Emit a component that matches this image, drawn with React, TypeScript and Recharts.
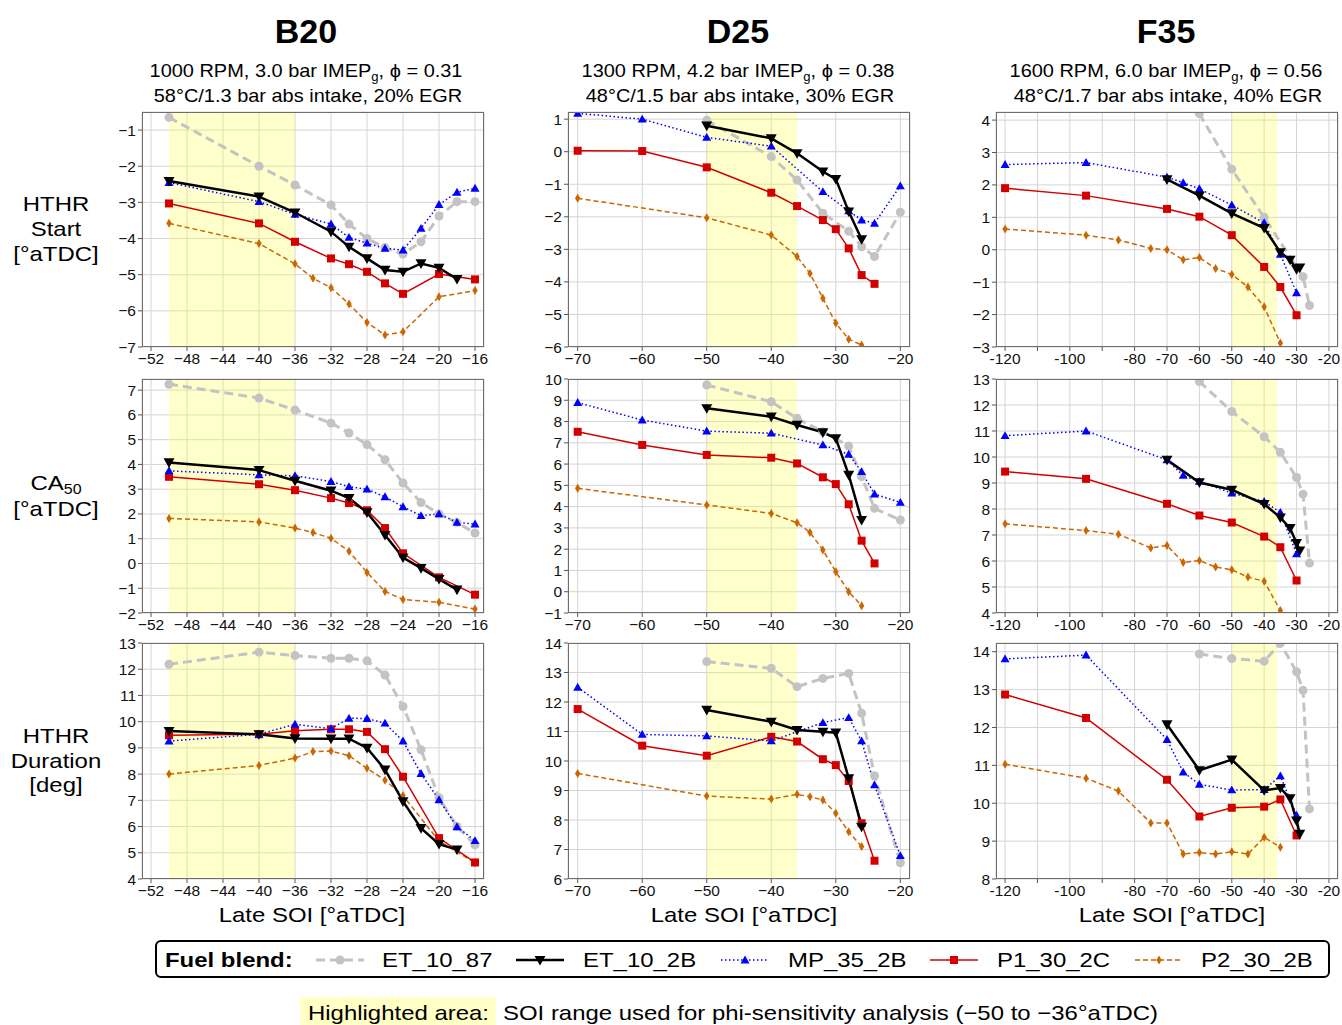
import React from 'react';
import { CartesianGrid, Line, LineChart, ReferenceArea, XAxis, YAxis } from 'recharts';

// ---------- data ----------
// B20 column
const B20_X_GRAY = [-50, -40, -36, -32, -30, -28, -26, -24, -22, -20, -18, -16];
const B20_X_BLACK = [-50, -40, -36, -32, -30, -28, -26, -24, -22, -20, -18];
const B20_X_BLUE = [-50, -40, -36, -32, -30, -28, -26, -24, -22, -20, -18, -16];
const B20_X_RED = [-50, -40, -36, -32, -30, -28, -26, -24, -20, -16];
const B20_X_ORANGE = [-50, -40, -36, -34, -32, -30, -28, -26, -24, -20, -16];

const B20_START_GRAY = [-0.65, -2.0, -2.52, -3.07, -3.6, -4.0, -4.25, -4.43, -4.09, -3.38, -2.98, -2.98];
const B20_START_BLACK = [-2.41, -2.84, -3.28, -3.81, -4.23, -4.55, -4.87, -4.92, -4.69, -4.81, -5.12];
const B20_START_BLUE = [-2.45, -2.98, -3.33, -3.6, -3.97, -4.13, -4.27, -4.32, -3.72, -3.06, -2.72, -2.61];
const B20_START_RED = [-3.03, -3.58, -4.09, -4.55, -4.71, -4.92, -5.24, -5.53, -4.98, -5.13];
const B20_START_ORANGE = [-3.58, -4.14, -4.7, -5.1, -5.36, -5.81, -6.32, -6.67, -6.58, -5.61, -5.44];

const B20_CA50_GRAY = [7.24, 6.68, 6.2, 5.67, 5.27, 4.8, 4.19, 3.25, 2.46, 2.0, 1.65, 1.23];
const B20_CA50_BLACK = [4.08, 3.77, 3.34, 2.94, 2.64, 2.06, 1.15, 0.24, -0.19, -0.63, -1.06];
const B20_CA50_BLUE = [3.74, 3.58, 3.54, 3.31, 3.1, 3.0, 2.69, 2.29, 1.93, 2.0, 1.66, 1.59];
const B20_CA50_RED = [3.5, 3.2, 2.96, 2.64, 2.44, 2.15, 1.43, 0.41, -0.56, -1.26];
const B20_CA50_ORANGE = [1.82, 1.68, 1.43, 1.25, 1.02, 0.49, -0.36, -1.13, -1.45, -1.57, -1.84];

const B20_DUR_GRAY = [12.19, 12.65, 12.52, 12.42, 12.42, 12.32, 11.78, 10.58, 8.93, 7.1, 6.0, 5.3];
const B20_DUR_BLACK = [9.64, 9.52, 9.36, 9.35, 9.35, 9.0, 8.17, 6.96, 5.94, 5.33, 5.12];
const B20_DUR_BLUE = [9.26, 9.52, 9.9, 9.73, 10.13, 10.12, 9.94, 9.26, 8.02, 7.02, 5.99, 5.46];
const B20_DUR_RED = [9.48, 9.52, 9.65, 9.71, 9.71, 9.61, 8.95, 7.9, 5.56, 4.63];
const B20_DUR_ORANGE = [8.0, 8.33, 8.61, 8.86, 8.88, 8.7, 8.22, 7.77, 7.18, 5.45, 4.62];

// D25 column
const D25_X_GRAY = [-50, -40, -36, -32, -28, -26, -24, -20];
const D25_X_BLACK = [-50, -40, -36, -32, -30, -28, -26];
const D25_X_BLUE = [-70, -60, -50, -40, -32, -28, -26, -24, -20];
const D25_X_RED = [-70, -60, -50, -40, -36, -32, -30, -28, -26, -24];
const D25_X_ORANGE = [-70, -50, -40, -36, -34, -32, -30, -28, -26];

const D25_START_GRAY = [0.97, -0.15, -0.87, -1.89, -2.44, -2.92, -3.22, -1.86];
const D25_START_BLACK = [0.8, 0.41, -0.05, -0.61, -0.84, -1.84, -2.69];
const D25_START_BLUE = [1.18, 1.0, 0.44, 0.17, -1.23, -1.82, -2.1, -2.2, -1.05];
const D25_START_RED = [0.03, 0.02, -0.48, -1.26, -1.67, -2.1, -2.38, -2.97, -3.79, -4.06];
const D25_START_ORANGE = [-1.43, -2.03, -2.56, -3.22, -3.74, -4.5, -5.27, -5.76, -5.94];

const D25_CA50_GRAY = [9.72, 8.93, 8.15, 7.52, 6.85, 5.41, 3.92, 3.37];
const D25_CA50_BLACK = [8.62, 8.23, 7.84, 7.49, 7.21, 5.49, 3.37];
const D25_CA50_BLUE = [8.89, 8.07, 7.55, 7.45, 6.9, 6.46, 5.64, 4.59, 4.2];
const D25_CA50_RED = [7.52, 6.9, 6.43, 6.3, 6.03, 5.38, 5.06, 4.11, 2.4, 1.33];
const D25_CA50_ORANGE = [4.86, 4.08, 3.68, 3.24, 2.79, 1.96, 0.94, 0.0, -0.66];

const D25_DUR_GRAY = [13.37, 13.14, 12.52, 12.8, 12.97, 11.62, 9.5, 6.55];
const D25_DUR_BLACK = [11.73, 11.33, 11.05, 10.99, 10.96, 9.41, 7.77];
const D25_DUR_BLUE = [12.5, 10.9, 10.85, 10.68, 11.3, 11.47, 10.68, 9.19, 6.79];
const D25_DUR_RED = [11.76, 10.52, 10.18, 10.82, 10.66, 10.06, 9.86, 9.32, 7.89, 6.62];
const D25_DUR_ORANGE = [9.58, 8.81, 8.71, 8.87, 8.79, 8.68, 8.23, 7.6, 7.1];

// F35 column
const F35_X_GRAY_START = [-60, -50, -40, -28, -26];
const F35_X_GRAY = [-60, -50, -40, -35, -30, -28, -26];
const F35_X_BLACK = [-70, -60, -50, -40, -35, -32, -30, -29];
const F35_X_BLUE = [-120, -95, -70, -65, -60, -50, -40, -35, -30];
const F35_X_RED = [-120, -95, -70, -60, -50, -40, -35, -30];
const F35_X_ORANGE = [-120, -95, -85, -75, -70, -65, -60, -55, -50, -45, -40, -35];

const F35_START_GRAY = [4.2, 2.48, 1.0, -0.83, -1.72];
const F35_START_BLACK = [2.17, 1.67, 1.12, 0.67, -0.08, -0.31, -0.6, -0.55];
const F35_START_BLUE = [2.63, 2.69, 2.24, 2.07, 1.88, 1.38, 0.83, -0.14, -1.33];
const F35_START_RED = [1.9, 1.67, 1.26, 1.02, 0.45, -0.53, -1.15, -2.02];
const F35_START_ORANGE = [0.64, 0.45, 0.3, 0.04, 0.0, -0.31, -0.24, -0.58, -0.76, -1.15, -1.76, -2.88];

const F35_CA50_GRAY = [12.9, 11.75, 10.78, 10.18, 9.21, 8.57, 5.92];
const F35_CA50_BLACK = [9.89, 9.02, 8.74, 8.19, 7.67, 7.26, 6.69, 6.4];
const F35_CA50_BLUE = [10.82, 11.0, 9.89, 9.29, 9.06, 8.61, 8.29, 7.87, 6.27];
const F35_CA50_RED = [9.44, 9.16, 8.2, 7.75, 7.48, 6.94, 6.53, 5.25];
const F35_CA50_ORANGE = [7.43, 7.17, 7.03, 6.5, 6.6, 5.94, 6.02, 5.77, 5.66, 5.38, 5.22, 4.1];

const F35_DUR_GRAY = [13.94, 13.82, 13.75, 14.22, 13.47, 12.98, 9.85];
const F35_DUR_BLACK = [12.08, 10.87, 11.15, 10.34, 10.4, 10.13, 9.54, 9.19];
const F35_DUR_BLUE = [13.81, 13.91, 11.68, 10.82, 10.5, 10.35, 10.36, 10.72, 9.68];
const F35_DUR_RED = [12.87, 12.25, 10.62, 9.65, 9.88, 9.91, 10.1, 9.15];
const F35_DUR_ORANGE = [11.03, 10.66, 10.32, 9.48, 9.48, 8.66, 8.7, 8.66, 8.72, 8.66, 9.1, 8.84];

// axis ticks
const B20_X_TICKS = [-52, -48, -44, -40, -36, -32, -28, -24, -20, -16];
const D25_X_TICKS = [-70, -60, -50, -40, -30, -20];
const F35_X_TICKS = [-120, -110, -100, -90, -80, -70, -60, -50, -40, -30, -20];
const F35_X_UNLABELED = [-110, -90];

const FUELS = ['ET_10_87', 'ET_10_2B', 'MP_35_2B', 'P1_30_2C', 'P2_30_2B'];
const TITLES = ['B20', 'D25', 'F35'];
const COND_1 = ['1000 RPM, 3.0 bar IMEP', '1300 RPM, 4.2 bar IMEP', '1600 RPM, 6.0 bar IMEP'];
const PHI = ['0.31', '0.38', '0.56'];
const COND_2 = [
  '58°C/1.3 bar abs intake, 20% EGR',
  '48°C/1.5 bar abs intake, 30% EGR',
  '48°C/1.7 bar abs intake, 40% EGR',
];

const range = (a: number, b: number) => {
  const r: number[] = [];
  for (let v = a; v <= b; v++) r.push(v);
  return r;
};

// ---------- styles ----------
const FONT = '"Liberation Sans", Arial, Helvetica, sans-serif';

type Style = {
  color: string;
  width: number;
  dash?: string;
  shape: 'circle' | 'tdown' | 'tup' | 'square' | 'diamond';
  size: number;
};

const STYLES: Style[] = [
  { color: '#c3c3c3', width: 3, dash: '9 5', shape: 'circle', size: 4.5 },
  { color: '#000000', width: 2.5, shape: 'tdown', size: 5.5 },
  { color: '#0000ff', width: 1.5, dash: '1.5 2.5', shape: 'tup', size: 4.5 },
  { color: '#d40000', width: 1.5, shape: 'square', size: 4 },
  { color: '#cc6600', width: 1.5, dash: '5 3', shape: 'diamond', size: 4.5 },
];

function markerPath(shape: Style['shape'], cx: number, cy: number, s: number) {
  switch (shape) {
    case 'tdown':
      return `M${cx - s},${cy - s * 0.75} L${cx + s},${cy - s * 0.75} L${cx},${cy + s} Z`;
    case 'tup':
      return `M${cx - s},${cy + s * 0.75} L${cx + s},${cy + s * 0.75} L${cx},${cy - s} Z`;
    case 'square':
      return `M${cx - s},${cy - s} H${cx + s} V${cy + s} H${cx - s} Z`;
    case 'diamond':
      return `M${cx},${cy - s} L${cx + s * 0.6},${cy} L${cx},${cy + s} L${cx - s * 0.6},${cy} Z`;
    default:
      return '';
  }
}

function makeDot(st: Style) {
  return (p: any) => {
    const { cx, cy, index } = p;
    if (cx == null || cy == null || isNaN(cx) || isNaN(cy)) return <g key={`e${index}`} />;
    if (st.shape === 'circle') {
      return <circle key={`d${index}`} cx={cx} cy={cy} r={st.size} fill={st.color} />;
    }
    return <path key={`d${index}`} d={markerPath(st.shape, cx, cy, st.size)} fill={st.color} />;
  };
}

const minus = (v: number) => String(v).replace('-', '\u2212');

type Series = { xs: number[]; ys: number[] };

type PanelProps = {
  left: number;
  top: number;
  width: number;
  height: number;
  xDomain: [number, number];
  xTicks: number[];
  xFmt: (v: number) => string;
  yDomain: [number, number];
  yTicks: number[];
  series: Series[];
};

const DRAW_ORDER = [0, 4, 3, 2, 1];
const YW = 50;
const XH = 26;
const M = 8;

function Panel({ left, top, width, height, xDomain, xTicks, xFmt, yDomain, yTicks, series }: PanelProps) {
  const tick = { fill: '#111', fontSize: 15.5, fontFamily: FONT };
  return (
    <>
      <div style={{ position: 'absolute', left: left - YW, top: top - M }}>
        <LineChart
          width={YW + width + M}
          height={M + height + XH}
          margin={{ top: M, right: M, bottom: 0, left: 0 }}
        >
          <CartesianGrid stroke="#d4d4d4" strokeWidth={1} />
          <ReferenceArea x1={-50} x2={-36} fill="#ffff55" fillOpacity={0.3} stroke="none" ifOverflow="hidden" />
          <XAxis
            type="number"
            dataKey="x"
            domain={xDomain}
            ticks={xTicks}
            interval={0}
            allowDataOverflow
            tickFormatter={xFmt}
            height={XH}
            tickSize={4}
            tickMargin={2}
            axisLine={false}
            tickLine={{ stroke: '#555' }}
            tick={tick}
          />
          <YAxis
            type="number"
            dataKey="y"
            domain={yDomain}
            ticks={yTicks}
            interval={0}
            allowDataOverflow
            tickFormatter={(v: number) => minus(v)}
            width={YW}
            tickSize={4}
            tickMargin={2}
            axisLine={false}
            tickLine={{ stroke: '#555' }}
            tick={tick}
          />
          {DRAW_ORDER.map((si) => {
            const st = STYLES[si];
            const s = series[si];
            const data = s.xs.map((x, i) => ({ x, y: s.ys[i] }));
            return (
              <Line
                key={FUELS[si]}
                data={data}
                dataKey="y"
                type="linear"
                stroke={st.color}
                strokeWidth={st.width}
                strokeDasharray={st.dash}
                dot={makeDot(st)}
                activeDot={false}
                isAnimationActive={false}
              />
            );
          })}
        </LineChart>
      </div>
      <div
        style={{
          position: 'absolute',
          left,
          top,
          width,
          height,
          border: '1px solid #6e6e6e',
          boxSizing: 'border-box',
          pointerEvents: 'none',
        }}
      />
    </>
  );
}

function Txt({
  x,
  y,
  size,
  bold,
  children,
  align = 'center',
  sx = 1,
}: {
  x: number;
  y: number;
  size: number;
  bold?: boolean;
  children: React.ReactNode;
  align?: 'center' | 'left';
  sx?: number;
}) {
  return (
    <div
      style={{
        position: 'absolute',
        left: x,
        top: y - 0.5 * size,
        transform: align === 'center' ? `translateX(-50%) scaleX(${sx})` : `scaleX(${sx})`,
        transformOrigin: align === 'center' ? 'center' : 'left center',
        fontSize: size,
        lineHeight: `${size}px`,
        fontWeight: bold ? 700 : 400,
        fontFamily: FONT,
        whiteSpace: 'nowrap',
        color: '#000',
      }}
    >
      {children}
    </div>
  );
}

function LegendSample({ x, st }: { x: number; st: Style }) {
  const w = 52;
  return (
    <svg style={{ position: 'absolute', left: x, top: 950 }} width={w} height={20}>
      <line x1={2} y1={10} x2={w - 2} y2={10} stroke={st.color} strokeWidth={st.width} strokeDasharray={st.dash} />
      {st.shape === 'circle' ? (
        <circle cx={w / 2} cy={10} r={st.size} fill={st.color} />
      ) : (
        <path d={markerPath(st.shape, w / 2, 10, st.size)} fill={st.color} />
      )}
    </svg>
  );
}

// ---------- layout ----------
const COLS = [
  { left: 142, right: 484, domain: [-53, -15] as [number, number], ticks: B20_X_TICKS, fmt: (v: number) => minus(v) },
  { left: 568, right: 910, domain: [-71.5, -18.5] as [number, number], ticks: D25_X_TICKS, fmt: (v: number) => minus(v) },
  {
    left: 996,
    right: 1338,
    domain: [-122.8, -17.2] as [number, number],
    ticks: F35_X_TICKS,
    fmt: (v: number) => (F35_X_UNLABELED.includes(v) ? '' : String(v)),
  },
];
const ROWS = [
  { top: 112, bottom: 347 },
  { top: 379, bottom: 613 },
  { top: 643, bottom: 879 },
];

const PANELS = [
  // row 0
  [
    {
      yDomain: [-7, -0.5] as [number, number],
      yTicks: range(-7, -1),
      series: [
        { xs: B20_X_GRAY, ys: B20_START_GRAY },
        { xs: B20_X_BLACK, ys: B20_START_BLACK },
        { xs: B20_X_BLUE, ys: B20_START_BLUE },
        { xs: B20_X_RED, ys: B20_START_RED },
        { xs: B20_X_ORANGE, ys: B20_START_ORANGE },
      ],
    },
    {
      yDomain: [-6, 1.22] as [number, number],
      yTicks: range(-6, 1),
      series: [
        { xs: D25_X_GRAY, ys: D25_START_GRAY },
        { xs: D25_X_BLACK, ys: D25_START_BLACK },
        { xs: D25_X_BLUE, ys: D25_START_BLUE },
        { xs: D25_X_RED, ys: D25_START_RED },
        { xs: D25_X_ORANGE, ys: D25_START_ORANGE },
      ],
    },
    {
      yDomain: [-3, 4.25] as [number, number],
      yTicks: range(-3, 4),
      series: [
        { xs: F35_X_GRAY_START, ys: F35_START_GRAY },
        { xs: F35_X_BLACK, ys: F35_START_BLACK },
        { xs: F35_X_BLUE, ys: F35_START_BLUE },
        { xs: F35_X_RED, ys: F35_START_RED },
        { xs: F35_X_ORANGE, ys: F35_START_ORANGE },
      ],
    },
  ],
  // row 1
  [
    {
      yDomain: [-2, 7.45] as [number, number],
      yTicks: range(-2, 7),
      series: [
        { xs: B20_X_GRAY, ys: B20_CA50_GRAY },
        { xs: B20_X_BLACK, ys: B20_CA50_BLACK },
        { xs: B20_X_BLUE, ys: B20_CA50_BLUE },
        { xs: B20_X_RED, ys: B20_CA50_RED },
        { xs: B20_X_ORANGE, ys: B20_CA50_ORANGE },
      ],
    },
    {
      yDomain: [-1, 10] as [number, number],
      yTicks: range(-1, 10),
      series: [
        { xs: D25_X_GRAY, ys: D25_CA50_GRAY },
        { xs: D25_X_BLACK, ys: D25_CA50_BLACK },
        { xs: D25_X_BLUE, ys: D25_CA50_BLUE },
        { xs: D25_X_RED, ys: D25_CA50_RED },
        { xs: D25_X_ORANGE, ys: D25_CA50_ORANGE },
      ],
    },
    {
      yDomain: [4, 13] as [number, number],
      yTicks: range(4, 13),
      series: [
        { xs: F35_X_GRAY, ys: F35_CA50_GRAY },
        { xs: F35_X_BLACK, ys: F35_CA50_BLACK },
        { xs: F35_X_BLUE, ys: F35_CA50_BLUE },
        { xs: F35_X_RED, ys: F35_CA50_RED },
        { xs: F35_X_ORANGE, ys: F35_CA50_ORANGE },
      ],
    },
  ],
  // row 2
  [
    {
      yDomain: [4, 13] as [number, number],
      yTicks: range(4, 13),
      series: [
        { xs: B20_X_GRAY, ys: B20_DUR_GRAY },
        { xs: B20_X_BLACK, ys: B20_DUR_BLACK },
        { xs: B20_X_BLUE, ys: B20_DUR_BLUE },
        { xs: B20_X_RED, ys: B20_DUR_RED },
        { xs: B20_X_ORANGE, ys: B20_DUR_ORANGE },
      ],
    },
    {
      yDomain: [6, 14] as [number, number],
      yTicks: range(6, 14),
      series: [
        { xs: D25_X_GRAY, ys: D25_DUR_GRAY },
        { xs: D25_X_BLACK, ys: D25_DUR_BLACK },
        { xs: D25_X_BLUE, ys: D25_DUR_BLUE },
        { xs: D25_X_RED, ys: D25_DUR_RED },
        { xs: D25_X_ORANGE, ys: D25_DUR_ORANGE },
      ],
    },
    {
      yDomain: [8, 14.23] as [number, number],
      yTicks: range(8, 14),
      series: [
        { xs: F35_X_GRAY, ys: F35_DUR_GRAY },
        { xs: F35_X_BLACK, ys: F35_DUR_BLACK },
        { xs: F35_X_BLUE, ys: F35_DUR_BLUE },
        { xs: F35_X_RED, ys: F35_DUR_RED },
        { xs: F35_X_ORANGE, ys: F35_DUR_ORANGE },
      ],
    },
  ],
];

const TITLE_X = [306, 738, 1166];
const LEGEND_X = [
  { sample: 314, text: 382 },
  { sample: 514, text: 583 },
  { sample: 719, text: 788 },
  { sample: 928, text: 997 },
  { sample: 1133, text: 1201 },
];
const SX = 1.14;

export default function App() {
  return (
    <div style={{ position: 'fixed', left: 0, top: 0, width: 1342, height: 1025, background: '#fff', overflow: 'hidden' }}>
      {TITLES.map((t, i) => (
        <React.Fragment key={t}>
          <Txt x={TITLE_X[i]} y={31} size={34} bold>
            {t}
          </Txt>
          <Txt x={TITLE_X[i]} y={70} size={19} sx={1.05}>
            {COND_1[i]}
            <sub style={{ fontSize: 12.5, verticalAlign: -4 }}>g</sub>, {'\u03d5'} = {PHI[i]}
          </Txt>
          <Txt x={TITLE_X[i] + 2} y={95} size={19} sx={1.05}>
            {COND_2[i]}
          </Txt>
          <Txt x={TITLE_X[i] + 6} y={914} size={21} sx={SX}>
            Late SOI [°aTDC]
          </Txt>
        </React.Fragment>
      ))}

      <Txt x={56} y={203} size={21} sx={SX}>HTHR</Txt>
      <Txt x={56} y={228} size={21} sx={SX}>Start</Txt>
      <Txt x={56} y={253} size={21} sx={SX}>[°aTDC]</Txt>
      <Txt x={56} y={482} size={21} sx={SX}>
        CA<sub style={{ fontSize: 14, verticalAlign: -4 }}>50</sub>
      </Txt>
      <Txt x={56} y={508} size={21} sx={SX}>[°aTDC]</Txt>
      <Txt x={56} y={735} size={21} sx={SX}>HTHR</Txt>
      <Txt x={56} y={760} size={21} sx={SX}>Duration</Txt>
      <Txt x={56} y={784} size={21} sx={SX}>[deg]</Txt>

      {ROWS.map((r, ri) =>
        COLS.map((c, ci) => {
          const p = PANELS[ri][ci];
          return (
            <Panel
              key={`${ri}-${ci}`}
              left={c.left}
              top={r.top}
              width={c.right - c.left}
              height={r.bottom - r.top}
              xDomain={c.domain}
              xTicks={c.ticks}
              xFmt={c.fmt}
              yDomain={p.yDomain}
              yTicks={p.yTicks}
              series={p.series}
            />
          );
        })
      )}

      <div
        style={{
          position: 'absolute',
          left: 155,
          top: 940,
          width: 1175,
          height: 38,
          border: '2px solid #000',
          borderRadius: 6,
          boxSizing: 'border-box',
        }}
      />
      <Txt x={165} y={959} size={21} bold align="left" sx={SX}>
        Fuel blend:
      </Txt>
      {FUELS.map((f, i) => (
        <React.Fragment key={f}>
          <LegendSample x={LEGEND_X[i].sample} st={STYLES[i]} />
          <Txt x={LEGEND_X[i].text} y={959} size={21} align="left" sx={SX}>
            {f}
          </Txt>
        </React.Fragment>
      ))}

      <div style={{ position: 'absolute', left: 300, top: 997, width: 196, height: 28, background: '#ffffc6' }} />
      <Txt x={308} y={1012} size={21} align="left" sx={SX}>
        Highlighted area:
      </Txt>
      <Txt x={503} y={1012} size={21} align="left" sx={SX}>
        SOI range used for phi-sensitivity analysis ({'\u2212'}50 to {'\u2212'}36°aTDC)
      </Txt>
    </div>
  );
}
